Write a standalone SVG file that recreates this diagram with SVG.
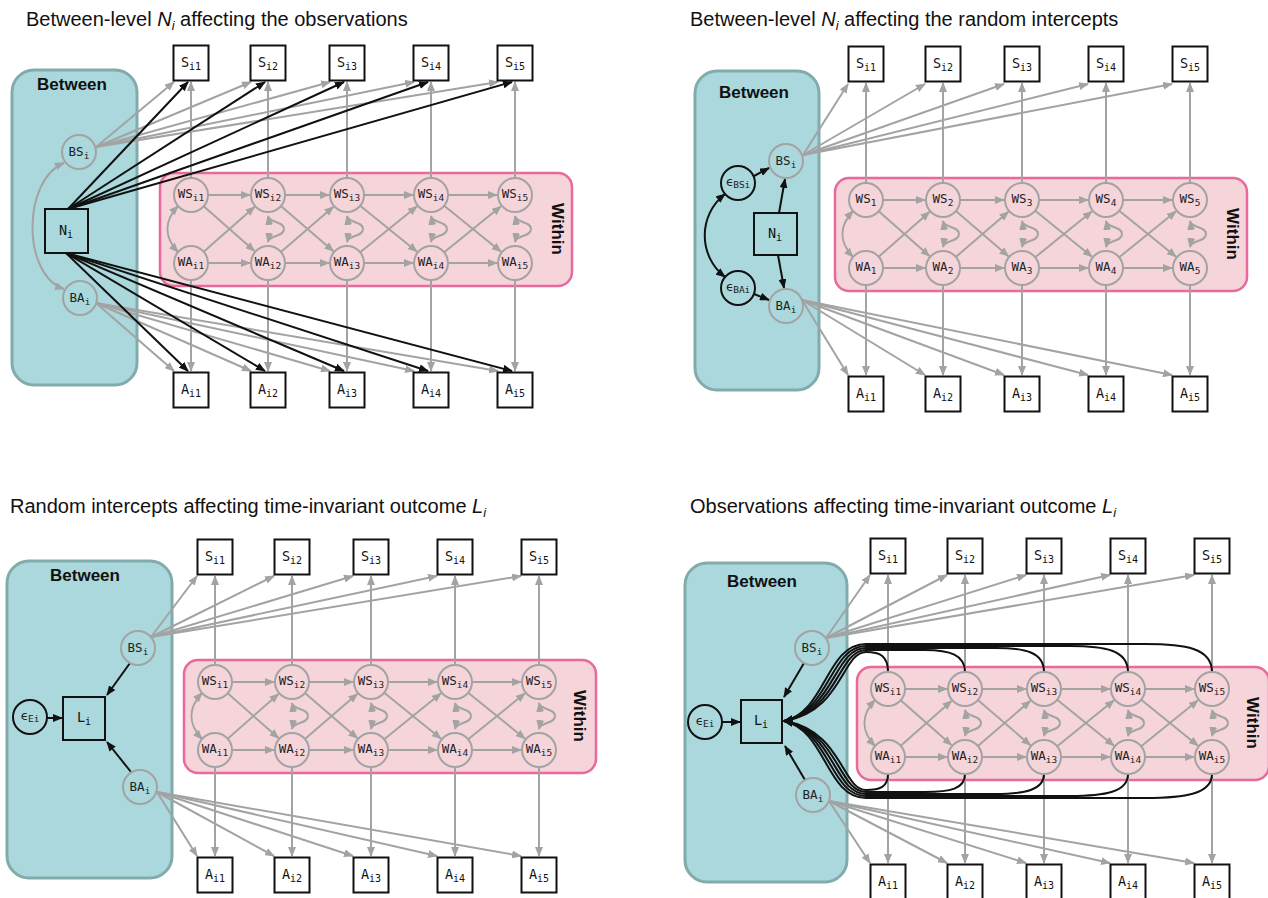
<svg xmlns="http://www.w3.org/2000/svg" width="1268" height="898" viewBox="0 0 1268 898">
  <style>
    .title { font-family: "Liberation Sans", Arial, sans-serif; font-size: 20px; fill: #111; }
    .title .it { font-style: italic; }
    .between { fill: #aad8dc; stroke: #82abac; stroke-width: 3; }
    .within { fill: #f6d5da; stroke: #e86a9c; stroke-width: 2.5; }
    .boxlbl { font-family: "Liberation Sans", Arial, sans-serif; font-weight: bold; font-size: 17px; fill: #111; text-anchor: middle; }
    .lat { fill: none; stroke: #a3a3a3; stroke-width: 2; }
    .latw { fill: #f6d5da; stroke: #a3a3a3; stroke-width: 2; }
    .eps { fill: none; stroke: #111; stroke-width: 2; }
    .obs { fill: #fff; stroke: #111; stroke-width: 2; }
    .obsb { fill: none; stroke: #111; stroke-width: 2; }
    .lbl { font-family: "DejaVu Sans Mono", "Liberation Mono", monospace; font-size: 12.5px; fill: #222; text-anchor: middle; }
    .lbl tspan { font-size: 9.5px; }
    .olbl { font-family: "DejaVu Sans Mono", "Liberation Mono", monospace; font-size: 13.5px; fill: #111; text-anchor: middle; }
    .olbl tspan { font-size: 10px; }
    .g { fill: none; stroke: #a3a3a3; stroke-width: 2; marker-end: url(#ag); }
    .g2 { fill: none; stroke: #a3a3a3; stroke-width: 2; marker-start: url(#ag); marker-end: url(#ag); }
    .k { fill: none; stroke: #111; stroke-width: 2; marker-end: url(#ak); }
    .k2 { fill: none; stroke: #111; stroke-width: 2; marker-start: url(#ak); marker-end: url(#ak); }
  </style>
  <defs>
    <marker id="ag" viewBox="0 0 10 8" refX="9" refY="4" markerWidth="10" markerHeight="8" markerUnits="userSpaceOnUse" orient="auto-start-reverse">
      <path d="M0,0 L10,4 L0,8 z" fill="#a3a3a3"/>
    </marker>
    <marker id="ak" viewBox="0 0 10 8" refX="9" refY="4" markerWidth="10" markerHeight="8" markerUnits="userSpaceOnUse" orient="auto-start-reverse">
      <path d="M0,0 L10,4 L0,8 z" fill="#111"/>
    </marker>
    <!-- within-level paths, local to WS1 centre; columns at 0, 77, 156, 240, 324, rows at 0 and 68 -->
    <g id="within-edges">
      <path class="g" d="M17,0H59"/>
      <path class="g" d="M94,0H138"/>
      <path class="g" d="M173,0H222"/>
      <path class="g" d="M257,0H306"/>
      <path class="g" d="M17,68H59"/>
      <path class="g" d="M94,68H138"/>
      <path class="g" d="M173,68H222"/>
      <path class="g" d="M257,68H306"/>
      <path class="g" d="M12.7,11.3L63.5,56.1"/>
      <path class="g" d="M12.7,56.7L63.5,11.9"/>
      <path class="g" d="M89.9,11.1L142.4,56.2"/>
      <path class="g" d="M89.9,56.9L142.4,11.8"/>
      <path class="g" d="M169.2,10.7L226,56.7"/>
      <path class="g" d="M169.2,57.3L226,11.3"/>
      <path class="g" d="M253.2,10.7L310,56.7"/>
      <path class="g" d="M253.2,57.3L310,11.3"/>
      <path class="g2" d="M-13,11C-27,26 -27,42 -13,57"/>
      <path class="g2" d="M77,21C78,28 93,26 93,34C93,42 78,40 77,47"/>
      <path class="g2" d="M156,21C157,28 172,26 172,34C172,42 157,40 156,47"/>
      <path class="g2" d="M240,21C241,28 256,26 256,34C256,42 241,40 240,47"/>
      <path class="g2" d="M324,21C325,28 340,26 340,34C340,42 325,40 324,47"/>
    </g>
  </defs>

  <rect width="1268" height="898" fill="#fff"/>

  <!-- titles -->
  <text class="title" x="26" y="26">Between-level <tspan class="it">N</tspan><tspan class="it" font-size="13" dy="4">i</tspan><tspan dy="-4"> affecting the observations</tspan></text>
  <text class="title" x="690" y="26">Between-level <tspan class="it">N</tspan><tspan class="it" font-size="13" dy="4">i</tspan><tspan dy="-4"> affecting the random intercepts</tspan></text>
  <text class="title" x="10" y="513">Random intercepts affecting time-invariant outcome <tspan class="it">L</tspan><tspan class="it" font-size="13" dy="4">i</tspan></text>
  <text class="title" x="690" y="513">Observations affecting time-invariant outcome <tspan class="it">L</tspan><tspan class="it" font-size="13" dy="4">i</tspan></text>

  <!-- level containers -->
  <g id="containers">
    <rect class="between" x="12" y="70" width="125" height="315" rx="22"/>
    <text class="boxlbl" x="72" y="90">Between</text>
    <rect class="within" x="160" y="173" width="412" height="113" rx="14"/>
    <text class="boxlbl" transform="translate(558,229) rotate(90)" y="6">Within</text>

    <rect class="between" x="695" y="71" width="124" height="319" rx="22"/>
    <text class="boxlbl" x="754" y="98">Between</text>
    <rect class="within" x="835" y="178" width="412" height="113" rx="14"/>
    <text class="boxlbl" transform="translate(1233,234) rotate(90)" y="6">Within</text>

    <rect class="between" x="7" y="561" width="165" height="317" rx="22"/>
    <text class="boxlbl" x="85" y="581">Between</text>
    <rect class="within" x="184" y="660" width="412" height="113" rx="14"/>
    <text class="boxlbl" transform="translate(580,716) rotate(90)" y="6">Within</text>

    <rect class="between" x="685" y="563" width="162" height="319" rx="22"/>
    <text class="boxlbl" x="762" y="587">Between</text>
    <rect class="within" x="857" y="667" width="412" height="113" rx="14"/>
    <text class="boxlbl" transform="translate(1253,723) rotate(90)" y="6">Within</text>
  </g>

  <!-- connectors -->
  <g id="connectors">
    <!-- top-left panel -->
    <g id="edges-p1">
      <path class="g" d="M96,147L174,82"/>
      <path class="g" d="M96,147L251,82"/>
      <path class="g" d="M96,147L330,82"/>
      <path class="g" d="M96,147L414,82"/>
      <path class="g" d="M96,147L498,82"/>
      <path class="g" d="M96,303L174,371"/>
      <path class="g" d="M96,303L251,371"/>
      <path class="g" d="M96,303L330,371"/>
      <path class="g" d="M96,303L414,371"/>
      <path class="g" d="M96,303L498,371"/>
      <path class="g" d="M191,178V82"/>
      <path class="g" d="M268,178V82"/>
      <path class="g" d="M347,178V82"/>
      <path class="g" d="M431,178V82"/>
      <path class="g" d="M515,178V82"/>
      <path class="g" d="M191,280V371"/>
      <path class="g" d="M268,280V371"/>
      <path class="g" d="M347,280V371"/>
      <path class="g" d="M431,280V371"/>
      <path class="g" d="M515,280V371"/>
      <path class="g2" d="M64,163C22,180 22,275 64,289"/>
      <path class="k" d="M68,209L188,82"/>
      <path class="k" d="M68,209L265,82"/>
      <path class="k" d="M68,209L344,82"/>
      <path class="k" d="M68,209L428,82"/>
      <path class="k" d="M68,209L512,82"/>
      <path class="k" d="M66,253L188,371"/>
      <path class="k" d="M66,253L265,371"/>
      <path class="k" d="M66,253L344,371"/>
      <path class="k" d="M66,253L428,371"/>
      <path class="k" d="M66,253L512,371"/>
      <use href="#within-edges" transform="translate(191,195)"/>
    </g>

    <!-- top-right panel -->
    <g id="edges-p2">
      <path class="g" d="M803,155L848,84"/>
      <path class="g" d="M803,155L925,84"/>
      <path class="g" d="M803,155L1004,84"/>
      <path class="g" d="M803,155L1088,84"/>
      <path class="g" d="M803,155L1172,84"/>
      <path class="g" d="M802,300L848,375"/>
      <path class="g" d="M802,300L925,375"/>
      <path class="g" d="M802,300L1004,375"/>
      <path class="g" d="M802,300L1088,375"/>
      <path class="g" d="M802,300L1172,375"/>
      <path class="g" d="M866,183V83"/>
      <path class="g" d="M943,183V83"/>
      <path class="g" d="M1022,183V83"/>
      <path class="g" d="M1106,183V83"/>
      <path class="g" d="M1190,183V83"/>
      <path class="g" d="M866,285V375"/>
      <path class="g" d="M943,285V375"/>
      <path class="g" d="M1022,285V375"/>
      <path class="g" d="M1106,285V375"/>
      <path class="g" d="M1190,285V375"/>
      <path class="k" d="M754,176L769,168"/>
      <path class="k" d="M779,213L785,179"/>
      <path class="k" d="M778,255L784,288"/>
      <path class="k" d="M754,294L769,300"/>
      <path class="k2" d="M725,194C698,215 698,256 725,277"/>
      <use href="#within-edges" transform="translate(866,200)"/>
    </g>

    <!-- bottom-left panel -->
    <g id="edges-p3">
      <path class="g" d="M151,637L197,576"/>
      <path class="g" d="M151,637L274,576"/>
      <path class="g" d="M151,637L353,576"/>
      <path class="g" d="M151,637L437,576"/>
      <path class="g" d="M151,637L521,576"/>
      <path class="g" d="M157,792L197,856"/>
      <path class="g" d="M157,792L274,856"/>
      <path class="g" d="M157,792L353,856"/>
      <path class="g" d="M157,792L437,856"/>
      <path class="g" d="M157,792L521,856"/>
      <path class="g" d="M215,665V576"/>
      <path class="g" d="M292,665V576"/>
      <path class="g" d="M371,665V576"/>
      <path class="g" d="M455,665V576"/>
      <path class="g" d="M539,665V576"/>
      <path class="g" d="M215,767V856"/>
      <path class="g" d="M292,767V856"/>
      <path class="g" d="M371,767V856"/>
      <path class="g" d="M455,767V856"/>
      <path class="g" d="M539,767V856"/>
      <path class="k" d="M130,663L107,695"/>
      <path class="k" d="M131,772L107,742"/>
      <path class="k" d="M47,718L62,718"/>
      <use href="#within-edges" transform="translate(215,682)"/>
    </g>

    <!-- bottom-right panel -->
    <g id="edges-p4">
      <path class="g" d="M826,638L870,575"/>
      <path class="g" d="M826,638L947,575"/>
      <path class="g" d="M826,638L1026,575"/>
      <path class="g" d="M826,638L1110,575"/>
      <path class="g" d="M826,638L1194,575"/>
      <path class="g" d="M829,801L870,863"/>
      <path class="g" d="M829,801L947,863"/>
      <path class="g" d="M829,801L1026,863"/>
      <path class="g" d="M829,801L1110,863"/>
      <path class="g" d="M829,801L1194,863"/>
      <path class="g" d="M888,672V575"/>
      <path class="g" d="M965,672V575"/>
      <path class="g" d="M1044,672V575"/>
      <path class="g" d="M1128,672V575"/>
      <path class="g" d="M1212,672V575"/>
      <path class="g" d="M888,774V863"/>
      <path class="g" d="M965,774V863"/>
      <path class="g" d="M1044,774V863"/>
      <path class="g" d="M1128,774V863"/>
      <path class="g" d="M1212,774V863"/>
      <path class="k" d="M804,663L784,697"/>
      <path class="k" d="M805,780L785,746"/>
      <path class="k" d="M722,722L740,722"/>
      <use href="#within-edges" transform="translate(888,689)"/>
      <!-- within-level states to the outcome -->
      <path class="k" d="M888,672C888,656 880,652 866,652C842,652 842,712 784,721"/>
      <path class="k" d="M965,672C965,655 950,650 925,650L866,650C838,650 838,712 784,721"/>
      <path class="k" d="M1044,672C1044,652 1025,648 995,648L866,648C834,648 834,712 784,721"/>
      <path class="k" d="M1128,672C1128,650 1105,646 1070,646L866,646C830,646 830,712 784,721"/>
      <path class="k" d="M1212,672C1212,648 1185,644 1145,644L866,644C826,644 826,712 784,721"/>
      <path class="k" d="M888,774C888,787 880,790 866,790C842,790 842,730 784,721"/>
      <path class="k" d="M965,774C965,789 950,792 925,792L866,792C838,792 838,730 784,721"/>
      <path class="k" d="M1044,774C1044,790 1025,794 995,794L866,794C834,794 834,730 784,721"/>
      <path class="k" d="M1128,774C1128,792 1105,796 1070,796L866,796C830,796 830,730 784,721"/>
      <path class="k" d="M1212,774C1212,794 1185,798 1145,798L866,798C826,798 826,730 784,721"/>
    </g>
  </g>

  <!-- ===== top-left panel nodes ===== -->
  <g id="p1-nodes">
    <g id="p1-BS"><circle class="lat" cx="79" cy="152" r="17"/><text class="lbl" x="79" y="156">BS<tspan dy="3">i</tspan></text></g>
    <g id="p1-BA"><circle class="lat" cx="80" cy="298" r="17"/><text class="lbl" x="80" y="302">BA<tspan dy="3">i</tspan></text></g>
    <g id="p1-N"><rect class="obsb" x="45" y="209" width="43" height="44"/><text class="olbl" x="66" y="235">N<tspan dy="3">i</tspan></text></g>
    <g id="p1-S1"><rect class="obs" x="173.5" y="45.5" width="35" height="35"/><text class="olbl" x="191" y="67">S<tspan dy="3">i1</tspan></text></g>
    <g id="p1-S2"><rect class="obs" x="250.5" y="45.5" width="35" height="35"/><text class="olbl" x="268" y="67">S<tspan dy="3">i2</tspan></text></g>
    <g id="p1-S3"><rect class="obs" x="329.5" y="45.5" width="35" height="35"/><text class="olbl" x="347" y="67">S<tspan dy="3">i3</tspan></text></g>
    <g id="p1-S4"><rect class="obs" x="413.5" y="45.5" width="35" height="35"/><text class="olbl" x="431" y="67">S<tspan dy="3">i4</tspan></text></g>
    <g id="p1-S5"><rect class="obs" x="497.5" y="45.5" width="35" height="35"/><text class="olbl" x="515" y="67">S<tspan dy="3">i5</tspan></text></g>
    <g id="p1-A1"><rect class="obs" x="173.5" y="372.5" width="35" height="35"/><text class="olbl" x="191" y="394">A<tspan dy="3">i1</tspan></text></g>
    <g id="p1-A2"><rect class="obs" x="250.5" y="372.5" width="35" height="35"/><text class="olbl" x="268" y="394">A<tspan dy="3">i2</tspan></text></g>
    <g id="p1-A3"><rect class="obs" x="329.5" y="372.5" width="35" height="35"/><text class="olbl" x="347" y="394">A<tspan dy="3">i3</tspan></text></g>
    <g id="p1-A4"><rect class="obs" x="413.5" y="372.5" width="35" height="35"/><text class="olbl" x="431" y="394">A<tspan dy="3">i4</tspan></text></g>
    <g id="p1-A5"><rect class="obs" x="497.5" y="372.5" width="35" height="35"/><text class="olbl" x="515" y="394">A<tspan dy="3">i5</tspan></text></g>
    <g transform="translate(191,195)">
      <g id="p1-WS1"><circle class="latw" cx="0" cy="0" r="17"/><text class="lbl" x="0" y="3">WS<tspan dy="3">i1</tspan></text></g>
      <g id="p1-WS2"><circle class="latw" cx="77" cy="0" r="17"/><text class="lbl" x="77" y="3">WS<tspan dy="3">i2</tspan></text></g>
      <g id="p1-WS3"><circle class="latw" cx="156" cy="0" r="17"/><text class="lbl" x="156" y="3">WS<tspan dy="3">i3</tspan></text></g>
      <g id="p1-WS4"><circle class="latw" cx="240" cy="0" r="17"/><text class="lbl" x="240" y="3">WS<tspan dy="3">i4</tspan></text></g>
      <g id="p1-WS5"><circle class="latw" cx="324" cy="0" r="17"/><text class="lbl" x="324" y="3">WS<tspan dy="3">i5</tspan></text></g>
      <g id="p1-WA1"><circle class="latw" cx="0" cy="68" r="17"/><text class="lbl" x="0" y="71">WA<tspan dy="3">i1</tspan></text></g>
      <g id="p1-WA2"><circle class="latw" cx="77" cy="68" r="17"/><text class="lbl" x="77" y="71">WA<tspan dy="3">i2</tspan></text></g>
      <g id="p1-WA3"><circle class="latw" cx="156" cy="68" r="17"/><text class="lbl" x="156" y="71">WA<tspan dy="3">i3</tspan></text></g>
      <g id="p1-WA4"><circle class="latw" cx="240" cy="68" r="17"/><text class="lbl" x="240" y="71">WA<tspan dy="3">i4</tspan></text></g>
      <g id="p1-WA5"><circle class="latw" cx="324" cy="68" r="17"/><text class="lbl" x="324" y="71">WA<tspan dy="3">i5</tspan></text></g>
    </g>
  </g>

  <!-- ===== top-right panel nodes ===== -->
  <g id="p2-nodes">
    <g id="p2-BS"><circle class="lat" cx="786" cy="161" r="17"/><text class="lbl" x="786" y="165">BS<tspan dy="3">i</tspan></text></g>
    <g id="p2-BA"><circle class="lat" cx="786" cy="306" r="17"/><text class="lbl" x="786" y="310">BA<tspan dy="3">i</tspan></text></g>
    <g id="p2-eBS"><circle class="eps" cx="738" cy="183" r="17"/><text class="lbl" x="738" y="186">ϵ<tspan dy="2">BSi</tspan></text></g>
    <g id="p2-eBA"><circle class="eps" cx="738" cy="288" r="17"/><text class="lbl" x="738" y="291">ϵ<tspan dy="2">BAi</tspan></text></g>
    <g id="p2-N"><rect class="obsb" x="754" y="213" width="43" height="42"/><text class="olbl" x="775" y="238">N<tspan dy="3">i</tspan></text></g>
    <g id="p2-S1"><rect class="obs" x="848.5" y="46.5" width="35" height="35"/><text class="olbl" x="866" y="68">S<tspan dy="3">i1</tspan></text></g>
    <g id="p2-S2"><rect class="obs" x="925.5" y="46.5" width="35" height="35"/><text class="olbl" x="943" y="68">S<tspan dy="3">i2</tspan></text></g>
    <g id="p2-S3"><rect class="obs" x="1004.5" y="46.5" width="35" height="35"/><text class="olbl" x="1022" y="68">S<tspan dy="3">i3</tspan></text></g>
    <g id="p2-S4"><rect class="obs" x="1088.5" y="46.5" width="35" height="35"/><text class="olbl" x="1106" y="68">S<tspan dy="3">i4</tspan></text></g>
    <g id="p2-S5"><rect class="obs" x="1172.5" y="46.5" width="35" height="35"/><text class="olbl" x="1190" y="68">S<tspan dy="3">i5</tspan></text></g>
    <g id="p2-A1"><rect class="obs" x="848.5" y="376.5" width="35" height="35"/><text class="olbl" x="866" y="398">A<tspan dy="3">i1</tspan></text></g>
    <g id="p2-A2"><rect class="obs" x="925.5" y="376.5" width="35" height="35"/><text class="olbl" x="943" y="398">A<tspan dy="3">i2</tspan></text></g>
    <g id="p2-A3"><rect class="obs" x="1004.5" y="376.5" width="35" height="35"/><text class="olbl" x="1022" y="398">A<tspan dy="3">i3</tspan></text></g>
    <g id="p2-A4"><rect class="obs" x="1088.5" y="376.5" width="35" height="35"/><text class="olbl" x="1106" y="398">A<tspan dy="3">i4</tspan></text></g>
    <g id="p2-A5"><rect class="obs" x="1172.5" y="376.5" width="35" height="35"/><text class="olbl" x="1190" y="398">A<tspan dy="3">i5</tspan></text></g>
    <g transform="translate(866,200)">
      <g id="p2-WS1"><circle class="latw" cx="0" cy="0" r="17"/><text class="lbl" x="0" y="3">WS<tspan dy="3">1</tspan></text></g>
      <g id="p2-WS2"><circle class="latw" cx="77" cy="0" r="17"/><text class="lbl" x="77" y="3">WS<tspan dy="3">2</tspan></text></g>
      <g id="p2-WS3"><circle class="latw" cx="156" cy="0" r="17"/><text class="lbl" x="156" y="3">WS<tspan dy="3">3</tspan></text></g>
      <g id="p2-WS4"><circle class="latw" cx="240" cy="0" r="17"/><text class="lbl" x="240" y="3">WS<tspan dy="3">4</tspan></text></g>
      <g id="p2-WS5"><circle class="latw" cx="324" cy="0" r="17"/><text class="lbl" x="324" y="3">WS<tspan dy="3">5</tspan></text></g>
      <g id="p2-WA1"><circle class="latw" cx="0" cy="68" r="17"/><text class="lbl" x="0" y="71">WA<tspan dy="3">1</tspan></text></g>
      <g id="p2-WA2"><circle class="latw" cx="77" cy="68" r="17"/><text class="lbl" x="77" y="71">WA<tspan dy="3">2</tspan></text></g>
      <g id="p2-WA3"><circle class="latw" cx="156" cy="68" r="17"/><text class="lbl" x="156" y="71">WA<tspan dy="3">3</tspan></text></g>
      <g id="p2-WA4"><circle class="latw" cx="240" cy="68" r="17"/><text class="lbl" x="240" y="71">WA<tspan dy="3">4</tspan></text></g>
      <g id="p2-WA5"><circle class="latw" cx="324" cy="68" r="17"/><text class="lbl" x="324" y="71">WA<tspan dy="3">5</tspan></text></g>
    </g>
  </g>

  <!-- ===== bottom-left panel nodes ===== -->
  <g id="p3-nodes">
    <g id="p3-BS"><circle class="lat" cx="138" cy="648" r="17"/><text class="lbl" x="138" y="652">BS<tspan dy="3">i</tspan></text></g>
    <g id="p3-BA"><circle class="lat" cx="140" cy="787" r="17"/><text class="lbl" x="140" y="791">BA<tspan dy="3">i</tspan></text></g>
    <g id="p3-eE"><circle class="eps" cx="30" cy="717" r="17"/><text class="lbl" x="30" y="720">ϵ<tspan dy="2">Ei</tspan></text></g>
    <g id="p3-L"><rect class="obsb" x="63" y="697" width="42" height="43"/><text class="olbl" x="84" y="722">L<tspan dy="3">i</tspan></text></g>
    <g id="p3-S1"><rect class="obs" x="197.5" y="539.5" width="35" height="35"/><text class="olbl" x="215" y="561">S<tspan dy="3">i1</tspan></text></g>
    <g id="p3-S2"><rect class="obs" x="274.5" y="539.5" width="35" height="35"/><text class="olbl" x="292" y="561">S<tspan dy="3">i2</tspan></text></g>
    <g id="p3-S3"><rect class="obs" x="353.5" y="539.5" width="35" height="35"/><text class="olbl" x="371" y="561">S<tspan dy="3">i3</tspan></text></g>
    <g id="p3-S4"><rect class="obs" x="437.5" y="539.5" width="35" height="35"/><text class="olbl" x="455" y="561">S<tspan dy="3">i4</tspan></text></g>
    <g id="p3-S5"><rect class="obs" x="521.5" y="539.5" width="35" height="35"/><text class="olbl" x="539" y="561">S<tspan dy="3">i5</tspan></text></g>
    <g id="p3-A1"><rect class="obs" x="197.5" y="857.5" width="35" height="35"/><text class="olbl" x="215" y="879">A<tspan dy="3">i1</tspan></text></g>
    <g id="p3-A2"><rect class="obs" x="274.5" y="857.5" width="35" height="35"/><text class="olbl" x="292" y="879">A<tspan dy="3">i2</tspan></text></g>
    <g id="p3-A3"><rect class="obs" x="353.5" y="857.5" width="35" height="35"/><text class="olbl" x="371" y="879">A<tspan dy="3">i3</tspan></text></g>
    <g id="p3-A4"><rect class="obs" x="437.5" y="857.5" width="35" height="35"/><text class="olbl" x="455" y="879">A<tspan dy="3">i4</tspan></text></g>
    <g id="p3-A5"><rect class="obs" x="521.5" y="857.5" width="35" height="35"/><text class="olbl" x="539" y="879">A<tspan dy="3">i5</tspan></text></g>
    <g transform="translate(215,682)">
      <g id="p3-WS1"><circle class="latw" cx="0" cy="0" r="17"/><text class="lbl" x="0" y="3">WS<tspan dy="3">i1</tspan></text></g>
      <g id="p3-WS2"><circle class="latw" cx="77" cy="0" r="17"/><text class="lbl" x="77" y="3">WS<tspan dy="3">i2</tspan></text></g>
      <g id="p3-WS3"><circle class="latw" cx="156" cy="0" r="17"/><text class="lbl" x="156" y="3">WS<tspan dy="3">i3</tspan></text></g>
      <g id="p3-WS4"><circle class="latw" cx="240" cy="0" r="17"/><text class="lbl" x="240" y="3">WS<tspan dy="3">i4</tspan></text></g>
      <g id="p3-WS5"><circle class="latw" cx="324" cy="0" r="17"/><text class="lbl" x="324" y="3">WS<tspan dy="3">i5</tspan></text></g>
      <g id="p3-WA1"><circle class="latw" cx="0" cy="68" r="17"/><text class="lbl" x="0" y="71">WA<tspan dy="3">i1</tspan></text></g>
      <g id="p3-WA2"><circle class="latw" cx="77" cy="68" r="17"/><text class="lbl" x="77" y="71">WA<tspan dy="3">i2</tspan></text></g>
      <g id="p3-WA3"><circle class="latw" cx="156" cy="68" r="17"/><text class="lbl" x="156" y="71">WA<tspan dy="3">i3</tspan></text></g>
      <g id="p3-WA4"><circle class="latw" cx="240" cy="68" r="17"/><text class="lbl" x="240" y="71">WA<tspan dy="3">i4</tspan></text></g>
      <g id="p3-WA5"><circle class="latw" cx="324" cy="68" r="17"/><text class="lbl" x="324" y="71">WA<tspan dy="3">i5</tspan></text></g>
    </g>
  </g>

  <!-- ===== bottom-right panel nodes ===== -->
  <g id="p4-nodes">
    <g id="p4-BS"><circle class="lat" cx="812" cy="648" r="17"/><text class="lbl" x="812" y="652">BS<tspan dy="3">i</tspan></text></g>
    <g id="p4-BA"><circle class="lat" cx="813" cy="795" r="17"/><text class="lbl" x="813" y="799">BA<tspan dy="3">i</tspan></text></g>
    <g id="p4-eE"><circle class="eps" cx="705" cy="722" r="17"/><text class="lbl" x="705" y="725">ϵ<tspan dy="2">Ei</tspan></text></g>
    <g id="p4-L"><rect class="obsb" x="741" y="700" width="41" height="43"/><text class="olbl" x="761" y="725">L<tspan dy="3">i</tspan></text></g>
    <g id="p4-S1"><rect class="obs" x="870.5" y="538.5" width="35" height="35"/><text class="olbl" x="888" y="560">S<tspan dy="3">i1</tspan></text></g>
    <g id="p4-S2"><rect class="obs" x="947.5" y="538.5" width="35" height="35"/><text class="olbl" x="965" y="560">S<tspan dy="3">i2</tspan></text></g>
    <g id="p4-S3"><rect class="obs" x="1026.5" y="538.5" width="35" height="35"/><text class="olbl" x="1044" y="560">S<tspan dy="3">i3</tspan></text></g>
    <g id="p4-S4"><rect class="obs" x="1110.5" y="538.5" width="35" height="35"/><text class="olbl" x="1128" y="560">S<tspan dy="3">i4</tspan></text></g>
    <g id="p4-S5"><rect class="obs" x="1194.5" y="538.5" width="35" height="35"/><text class="olbl" x="1212" y="560">S<tspan dy="3">i5</tspan></text></g>
    <g id="p4-A1"><rect class="obs" x="870.5" y="864.5" width="35" height="35"/><text class="olbl" x="888" y="886">A<tspan dy="3">i1</tspan></text></g>
    <g id="p4-A2"><rect class="obs" x="947.5" y="864.5" width="35" height="35"/><text class="olbl" x="965" y="886">A<tspan dy="3">i2</tspan></text></g>
    <g id="p4-A3"><rect class="obs" x="1026.5" y="864.5" width="35" height="35"/><text class="olbl" x="1044" y="886">A<tspan dy="3">i3</tspan></text></g>
    <g id="p4-A4"><rect class="obs" x="1110.5" y="864.5" width="35" height="35"/><text class="olbl" x="1128" y="886">A<tspan dy="3">i4</tspan></text></g>
    <g id="p4-A5"><rect class="obs" x="1194.5" y="864.5" width="35" height="35"/><text class="olbl" x="1212" y="886">A<tspan dy="3">i5</tspan></text></g>
    <g transform="translate(888,689)">
      <g id="p4-WS1"><circle class="latw" cx="0" cy="0" r="17"/><text class="lbl" x="0" y="3">WS<tspan dy="3">i1</tspan></text></g>
      <g id="p4-WS2"><circle class="latw" cx="77" cy="0" r="17"/><text class="lbl" x="77" y="3">WS<tspan dy="3">i2</tspan></text></g>
      <g id="p4-WS3"><circle class="latw" cx="156" cy="0" r="17"/><text class="lbl" x="156" y="3">WS<tspan dy="3">i3</tspan></text></g>
      <g id="p4-WS4"><circle class="latw" cx="240" cy="0" r="17"/><text class="lbl" x="240" y="3">WS<tspan dy="3">i4</tspan></text></g>
      <g id="p4-WS5"><circle class="latw" cx="324" cy="0" r="17"/><text class="lbl" x="324" y="3">WS<tspan dy="3">i5</tspan></text></g>
      <g id="p4-WA1"><circle class="latw" cx="0" cy="68" r="17"/><text class="lbl" x="0" y="71">WA<tspan dy="3">i1</tspan></text></g>
      <g id="p4-WA2"><circle class="latw" cx="77" cy="68" r="17"/><text class="lbl" x="77" y="71">WA<tspan dy="3">i2</tspan></text></g>
      <g id="p4-WA3"><circle class="latw" cx="156" cy="68" r="17"/><text class="lbl" x="156" y="71">WA<tspan dy="3">i3</tspan></text></g>
      <g id="p4-WA4"><circle class="latw" cx="240" cy="68" r="17"/><text class="lbl" x="240" y="71">WA<tspan dy="3">i4</tspan></text></g>
      <g id="p4-WA5"><circle class="latw" cx="324" cy="68" r="17"/><text class="lbl" x="324" y="71">WA<tspan dy="3">i5</tspan></text></g>
    </g>
  </g>
</svg>
